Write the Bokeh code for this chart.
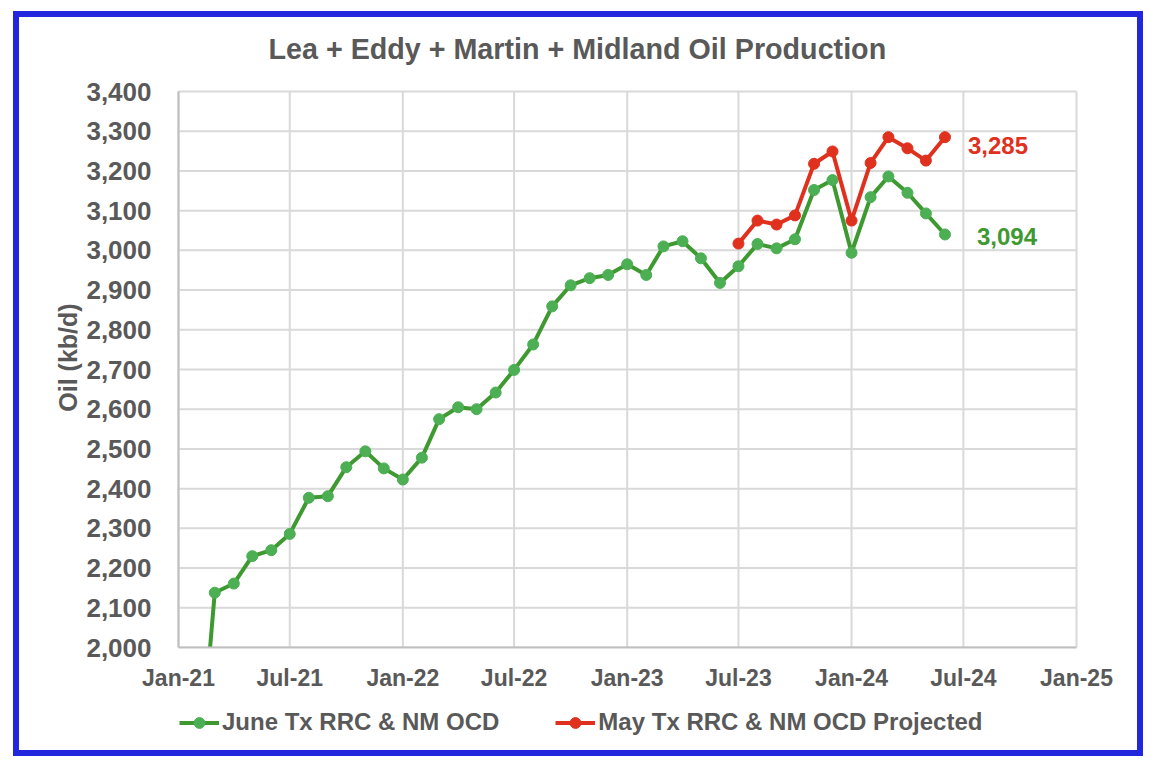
import math
import pandas as pd
from bokeh.plotting import figure
from bokeh.models import (ColumnDataSource, Legend, LegendItem, Label, FixedTicker,
                          DatetimeTickFormatter, NumeralTickFormatter, Range1d)
from bokeh.embed import file_html
from bokeh.resources import INLINE

title_text = "Lea + Eddy + Martin + Midland Oil Production"
y_label = "Oil (kb/d)"

green_name = "June Tx RRC & NM OCD"
green_months = pd.date_range("2021-02-01", "2024-06-01", freq="MS")
green_values = [1630, 2138, 2161, 2230, 2245, 2286, 2377, 2381, 2454, 2494, 2451,
                2423, 2478, 2575, 2605, 2600, 2642, 2699, 2763, 2859, 2912, 2930, 2938,
                2965, 2938, 3010, 3023, 2980, 2918, 2960, 3016, 3005, 3028, 3152, 3177,
                2994, 3134, 3186, 3145, 3093, 3040]
green_label = "3,094"

red_name = "May Tx RRC & NM OCD Projected"
red_months = pd.date_range("2023-07-01", "2024-06-01", freq="MS")
red_values = [3017, 3075, 3065, 3088, 3218, 3249, 3075, 3220, 3285, 3257, 3226, 3285]
red_label = "3,285"

x_tick_dates = ["2021-01-01", "2021-07-01", "2022-01-01", "2022-07-01", "2023-01-01",
                "2023-07-01", "2024-01-01", "2024-07-01", "2025-01-01"]
y_ticks = [2000, 2100, 2200, 2300, 2400, 2500, 2600, 2700, 2800, 2900, 3000,
           3100, 3200, 3300, 3400]

FONT = "Liberation Sans"
GRAY = "#595959"
GREEN_LINE = "#3e9a30"
GREEN_DOT = "#4caf54"
RED_LINE = "#e0301e"
RED_DOT = "#e0301e"
GRID = "#d9d9d9"
AXIS = "#bfbfbf"


def ms(d):
    return pd.Timestamp(d).value / 1e6


# ---- layout geometry (page pixels) ----
W, H = 1130, 745                 # figure size (incl. 6px css border)
CANVAS_X, CANVAS_Y = 19, 17      # canvas origin on the page
MB_L, MB_R, MB_T, MB_B = 4, 16, 4, 12
FL, FR = CANVAS_X + MB_L, CANVAS_X + W - MB_R     # frame edges
FT, FB = CANVAS_Y + MB_T, CANVAS_Y + H - MB_B
PL, PR, PT, PB = 178, 1076, 91, 647               # plot-area edges
TITLE_BASE = 48

x_ticks_ms = [ms(d) for d in x_tick_dates]
t0, t1 = x_ticks_ms[0], x_ticks_ms[-1]
y_lo, y_hi = y_ticks[0], y_ticks[-1]
xpp = (t1 - t0) / (PR - PL)
ypp = (y_hi - y_lo) / (PB - PT)
x_range = Range1d(t0 - (PL - FL) * xpp, t1 + (FR - PR) * xpp)
y_range = Range1d(y_lo - (FB - PB) * ypp, y_hi + (PT - FT) * ypp)

p = figure(width=W, height=H, x_axis_type="datetime", title=None,
           x_range=x_range, y_range=y_range,
           output_backend="svg", toolbar_location=None,
           min_border_left=MB_L, min_border_right=MB_R,
           min_border_top=MB_T, min_border_bottom=MB_B)
p.margin = (11, 0, 0, 13)
p.styles = {"border": "6px solid #2226dc"}
p.outline_line_color = None
p.background_fill_color = "white"
p.border_fill_color = "white"
p.xgrid.visible = False
p.ygrid.visible = False

# grid lines limited to the plot area
n_x, n_y = len(x_ticks_ms), len(y_ticks)
p.segment(x0=x_ticks_ms, x1=x_ticks_ms, y0=[y_lo] * n_x, y1=[y_hi] * n_x,
          line_color=GRID, line_width=2, level="underlay")
p.segment(x0=[t0] * n_y, x1=[t1] * n_y, y0=y_ticks, y1=y_ticks,
          line_color=GRID, line_width=2, level="underlay")

gsrc = ColumnDataSource(dict(x=[ms(d) for d in green_months], y=green_values))
rsrc = ColumnDataSource(dict(x=[ms(d) for d in red_months], y=red_values))

gl = p.line("x", "y", source=gsrc, line_color=GREEN_LINE, line_width=4)
gs = p.scatter("x", "y", source=gsrc, size=11, fill_color=GREEN_DOT, line_color=GREEN_DOT)
rl = p.line("x", "y", source=rsrc, line_color=RED_LINE, line_width=4)
rs = p.scatter("x", "y", source=rsrc, size=11, fill_color=RED_DOT, line_color=RED_DOT)

# mask below the plot area (series clipped at 2,000 as in the original)
p.quad(left=[x_range.start], right=[x_range.end], bottom=[y_range.start], top=[y_lo],
       fill_color="white", line_color=None)

# axes fixed at the plot-area edges
p.xaxis.fixed_location = y_lo
p.xaxis.bounds = (t0, t1)
p.xaxis.ticker = FixedTicker(ticks=x_ticks_ms)
p.xaxis.formatter = DatetimeTickFormatter(months="%b-%y", years="%b-%y", days="%b-%y")
p.yaxis.fixed_location = t0
p.yaxis.bounds = (y_lo, y_hi)
p.yaxis.ticker = FixedTicker(ticks=y_ticks)
p.yaxis.formatter = NumeralTickFormatter(format="0,0")
for ax in (p.xaxis, p.yaxis):
    ax.major_tick_line_color = None
    ax.minor_tick_line_color = None
    ax.axis_line_color = AXIS
    ax.axis_line_width = 2
    ax.major_label_text_font = FONT
    ax.major_label_text_font_style = "bold"
    ax.major_label_text_color = GRAY
p.xaxis.major_label_text_font_size = "23px"
p.yaxis.major_label_text_font_size = "26px"
p.xaxis.major_label_standoff = 11
p.yaxis.major_label_standoff = 21

# title and y-axis title
p.add_layout(Label(x=t0, y=y_hi, x_offset=268 - PL, y_offset=PT - TITLE_BASE,
                   text=title_text, text_baseline="alphabetic", text_align="left",
                   text_font=FONT, text_font_size="28.7px", text_font_style="bold",
                   text_color=GRAY))
p.add_layout(Label(x=t0, y=(y_lo + y_hi) / 2, x_offset=67 - PL, y_offset=12,
                   angle=math.pi / 2, text=y_label, text_align="center",
                   text_baseline="middle", text_font=FONT, text_font_size="25px",
                   text_font_style="bold", text_color=GRAY))

# data labels
p.add_layout(Label(x=ms(green_months[-1]), y=green_values[-1], x_offset=32, y_offset=-2,
                   text=green_label, text_baseline="middle", text_font=FONT,
                   text_font_size="24px", text_font_style="bold", text_color=GREEN_LINE))
p.add_layout(Label(x=ms(red_months[-1]), y=red_values[-1], x_offset=23, y_offset=-8,
                   text=red_label, text_baseline="middle", text_font=FONT,
                   text_font_size="24px", text_font_style="bold", text_color=RED_LINE))

legend = Legend(items=[LegendItem(label=green_name, renderers=[gl, gs]),
                       LegendItem(label=red_name, renderers=[rl, rs])],
                orientation="horizontal", location=(179 - FL, 14),
                glyph_width=40, glyph_height=27, label_standoff=3, spacing=56,
                padding=0, margin=0, border_line_color=None,
                background_fill_alpha=0,
                label_text_font=FONT, label_text_font_size="24px",
                label_text_font_style="bold", label_text_color=GRAY)
p.add_layout(legend, "center")

open("out.html", "w").write(file_html(p, INLINE))
